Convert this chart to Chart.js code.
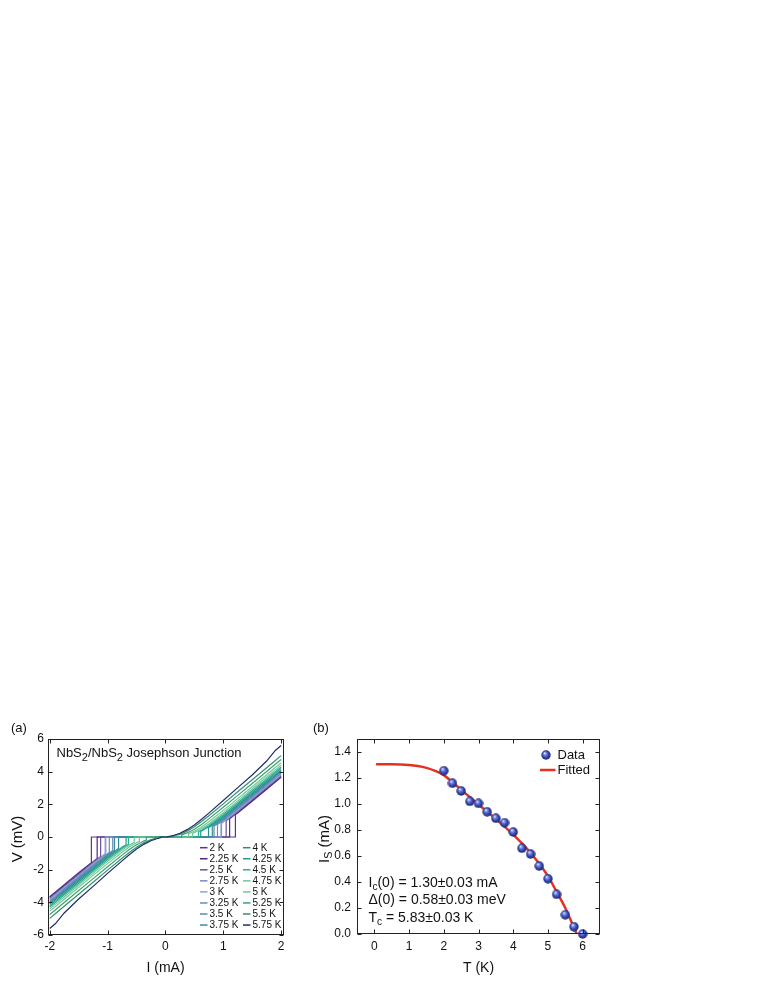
<!DOCTYPE html>
<html><head><meta charset="utf-8">
<script src="https://cdn.jsdelivr.net/npm/chart.js@4.4.0/dist/chart.umd.min.js"></script>
<style>
html,body{margin:0;padding:0;background:#fff;width:765px;height:990px;overflow:hidden;}
#wrapA{position:absolute;left:0;top:715px;width:305px;height:275px;}
#wrapB{position:absolute;left:305px;top:715px;width:310px;height:275px;}
canvas{display:block;}
</style></head><body>
<div id="wrapA"><canvas id="cA" width="305" height="275"></canvas></div>
<div id="wrapB"><canvas id="cB" width="310" height="275"></canvas></div>
<script>
// ---------------- Panel (a) data ----------------
const temperatureLabels = ['2 K','2.25 K','2.5 K','2.75 K','3 K','3.25 K','3.5 K','3.75 K',
                           '4 K','4.25 K','4.5 K','4.75 K','5 K','5.25 K','5.5 K','5.75 K'];
const curveColors = ['#6b2c8e','#4c2a82','#6a50a2','#7e86c2','#8fa5cd','#6b8dbd','#5a88ad','#3d8aa5',
                     '#2a8b8e','#1f9f8a','#2fb08c','#66c99c','#72c694','#3aa271','#358f6c','#1f2d6e'];
// current grid (mA, positive side); branch voltages mirrored for negative currents
const gridCurrents = [0, 0.125, 0.25, 0.375, 0.5, 0.625, 0.75, 1.0, 1.25, 1.5, 1.75, 1.9, 2.0];
const n = null;
const v_2K    = [n,n,n,n,n,n,n,n,1.47,2.19,2.92,3.36,3.65];
const v_2p25K = [n,n,n,n,n,n,n,n,1.51,2.23,2.96,3.40,3.69];
const v_2p5K  = [n,n,n,n,n,n,n,n,1.55,2.28,3.01,3.45,3.74];
const v_2p75K = [n,n,n,n,n,n,n,0.91,1.61,2.34,3.07,3.50,3.80];
const v_3K    = [n,n,n,n,n,n,n,0.97,1.67,2.40,3.12,3.56,3.85];
const v_3p25K = [n,n,n,n,n,n,n,1.02,1.73,2.45,3.18,3.62,3.91];
const v_3p5K  = [n,n,n,n,n,n,n,1.07,1.79,2.51,3.24,3.68,3.97];
const v_3p75K = [n,n,n,n,n,n,n,1.14,1.86,2.58,3.31,3.75,4.04];
const v_4K    = [n,n,n,n,n,n,0.56,1.21,1.93,2.65,3.38,3.82,4.11];
const v_4p25K = [n,n,n,n,n,0.37,0.63,1.29,2.01,2.74,3.47,3.91,4.20];
const v_4p5K  = [n,n,n,n,n,0.42,0.70,1.38,2.10,2.83,3.56,4.00,4.29];
const v_4p75K = [n,n,n,n,0.27,0.50,0.80,1.49,2.21,2.94,3.67,4.11,4.40];
const v_5K    = [n,n,n,n,0.35,0.61,0.93,1.63,2.35,3.08,3.81,4.25,4.54];
const v_5p25K = [n,n,n,0.25,0.48,0.77,1.11,1.82,2.55,3.28,4.01,4.45,4.74];
const v_5p5K  = [n,n,0.16,0.36,0.63,0.95,1.30,2.03,2.77,3.50,4.24,4.68,4.98];
const v_5p75K = [0,0.08,0.23,0.45,0.74,1.09,1.46,2.23,3.02,3.80,4.65,5.30,5.60];
const branchVoltages = [v_2K,v_2p25K,v_2p5K,v_2p75K,v_3K,v_3p25K,v_3p5K,v_3p75K,
                        v_4K,v_4p25K,v_4p5K,v_4p75K,v_5K,v_5p25K,v_5p5K,v_5p75K];
// switching (jump) currents and the voltage reached after the jump
const icNeg    = [-1.28,-1.18,-1.12,-1.04,-1.03,-0.97,-0.91,-0.88,-0.81,-0.68,-0.64,-0.54,-0.45,-0.33,-0.17,-0.08];
const icPos    = [1.21,1.11,1.05,0.97,0.96,0.90,0.84,0.81,0.74,0.61,0.57,0.47,0.40,0.28,0.13,0.04];
const vJumpNeg = [-1.58,-1.31,-1.19,-1.02,-1.05,-0.94,-0.83,-0.82,-0.70,-0.47,-0.45,-0.33,-0.27,-0.19,-0.08,-0.04];
const vJumpPos = [1.38,1.11,0.99,0.83,0.86,0.76,0.66,0.65,0.54,0.34,0.32,0.23,0.20,0.13,0.06,0.02];
const xTicksA = [-2,-1,0,1,2];
const xLabelsA = ['-2','-1','0','1','2'];
const yTicksA = [-6,-4,-2,0,2,4,6];
const yLabelsA = ['-6','-4','-2','0','2','4','6'];

// ---------------- Panel (b) data ----------------
const tempK = [2,2.25,2.5,2.75,3,3.25,3.5,3.75,4,4.25,4.5,4.75,5,5.25,5.5,5.75,6];
const switchCurrent = [1.256,1.16,1.10,1.02,1.005,0.94,0.89,0.856,0.785,0.66,0.615,0.523,0.425,0.305,0.148,0.056,0.0];
const fitT  = [0.05,0.5,1.0,1.25,1.5,1.75,2.0,2.25,2.5,2.75,3.0,3.25,3.5,3.75,4.0,4.25,4.5,4.75,5.0,5.25,5.5,5.7,5.83];
const fitIs = [1.305,1.305,1.300,1.292,1.278,1.255,1.222,1.168,1.110,1.053,0.996,0.941,0.885,0.826,0.765,0.698,0.625,0.540,0.445,0.325,0.200,0.080,0.0];
const xTicksB = [0,1,2,3,4,5,6];
const xLabelsB = ['0','1','2','3','4','5','6'];
const yTicksB = [0,0.2,0.4,0.6,0.8,1.0,1.2,1.4];
const yLabelsB = ['0.0','0.2','0.4','0.6','0.8','1.0','1.2','1.4'];

const FONT = '"Liberation Sans", Arial, Helvetica, sans-serif';
const INK = '#111';

function curvePoints(i){
  const v = branchVoltages[i], pts = [];
  for (let k = gridCurrents.length-1; k >= 0; k--){
    const I = gridCurrents[k];
    if (v[k] !== null && -I < icNeg[i]) pts.push({x:-I, y:-v[k]});
  }
  pts.push({x:icNeg[i], y:vJumpNeg[i]}, {x:icNeg[i], y:0}, {x:icPos[i], y:0}, {x:icPos[i], y:vJumpPos[i]});
  for (let k = 0; k < gridCurrents.length; k++){
    const I = gridCurrents[k];
    if (v[k] !== null && I > icPos[i]) pts.push({x:I, y:v[k]});
  }
  return pts;
}

function drawRich(ctx, parts, x, y, size, align, subScale){
  const ss = subScale || 0.72;
  const measure = () => {
    let w = 0;
    parts.forEach(p => { ctx.font = (p[1] ? size*ss : size) + 'px ' + FONT; w += ctx.measureText(p[0]).width; });
    return w;
  };
  let cx = x;
  if (align === 'center') cx = x - measure()/2;
  ctx.textAlign = 'left';
  parts.forEach(p => {
    ctx.font = (p[1] ? size*ss : size) + 'px ' + FONT;
    ctx.fillText(p[0], cx, p[1] ? y + size*0.28 : y);
    cx += ctx.measureText(p[0]).width;
  });
}

function makeFramePlugin(xt, yt){
  return {
    id: 'frameTicks',
    afterDraw(chart){
      const {ctx, chartArea:a} = chart;
      const xs = chart.scales.x, ys = chart.scales.y;
      const L = Math.round(a.left)+0.5, R = Math.round(a.right)-0.5, T = Math.round(a.top)+0.5, B = Math.round(a.bottom)-0.5;
      ctx.save();
      ctx.strokeStyle = '#222'; ctx.lineWidth = 1;
      ctx.strokeRect(L, T, R-L, B-T);
      ctx.beginPath();
      xt.forEach(v => {
        const px = Math.round(xs.getPixelForValue(v))+0.5;
        ctx.moveTo(px, B); ctx.lineTo(px, B-4);
        ctx.moveTo(px, T); ctx.lineTo(px, T+4);
      });
      yt.forEach(v => {
        const py = Math.round(ys.getPixelForValue(v))+0.5;
        ctx.moveTo(L, py); ctx.lineTo(L+4, py);
        ctx.moveTo(R, py); ctx.lineTo(R-4, py);
      });
      ctx.stroke();
      ctx.restore();
    }
  };
}

function makeSphere(d){
  const c = document.createElement('canvas'); c.width = d; c.height = d;
  const g = c.getContext('2d'); const r = d/2;
  const grad = g.createRadialGradient(r*0.72, r*0.62, r*0.05, r, r, r);
  grad.addColorStop(0, '#f2f4ff');
  grad.addColorStop(0.22, '#8394e6');
  grad.addColorStop(0.6, '#3447b0');
  grad.addColorStop(1, '#1a2366');
  g.fillStyle = grad; g.beginPath(); g.arc(r, r, r-0.3, 0, Math.PI*2); g.fill();
  return c;
}
const sphere = makeSphere(10);

// ---------------- Chart (a) ----------------
const textA = {
  id: 'textA',
  afterDraw(chart){
    const ctx = chart.ctx;
    ctx.save();
    ctx.fillStyle = INK; ctx.textBaseline = 'alphabetic';
    ctx.font = '13px ' + FONT; ctx.textAlign = 'left';
    ctx.fillText('(a)', 11, 17);
    drawRich(ctx, [['NbS'],['2',1],['/NbS'],['2',1],[' Josephson Junction']], 56.5, 42, 13, 'left', 0.85);
    // legend: 2 columns x 8 rows
    for (let i = 0; i < temperatureLabels.length; i++){
      const col = Math.floor(i/8), row = i % 8;
      const yy = 132.7 + row*11.05;
      const x0 = col === 0 ? 200 : 243;
      ctx.strokeStyle = curveColors[i]; ctx.lineWidth = 1.5;
      ctx.beginPath(); ctx.moveTo(x0, yy); ctx.lineTo(x0+7.5, yy); ctx.stroke();
      ctx.fillStyle = INK; ctx.font = '10px ' + FONT; ctx.textBaseline = 'middle'; ctx.textAlign = 'left';
      ctx.fillText(temperatureLabels[i], x0+9.5, yy+0.5);
    }
    // axis titles
    ctx.textBaseline = 'middle'; ctx.textAlign = 'center'; ctx.font = '14px ' + FONT;
    ctx.fillText('I (mA)', 165.5, 253);
    ctx.font = '15px ' + FONT;
    ctx.save(); ctx.translate(18, 124); ctx.rotate(-Math.PI/2);
    ctx.fillText('V (mV)', 0, 0); ctx.restore();
    ctx.restore();
  }
};

new Chart(document.getElementById('cA'), {
  type: 'scatter',
  data: {
    datasets: temperatureLabels.map((lab, i) => ({
      label: lab, data: curvePoints(i), showLine: true,
      borderColor: curveColors[i], backgroundColor: curveColors[i],
      borderWidth: 1.2, pointRadius: 0, tension: 0, order: 15 - i
    }))
  },
  options: {
    responsive: false, animation: false, events: [],
    layout: {padding: {left: 0, right: 21, top: 24, bottom: 0}},
    plugins: {legend: {display: false}, tooltip: {enabled: false}},
    scales: {
      x: {
        type: 'linear', min: -2.03, max: 2.05,
        grid: {display: false, drawTicks: false}, border: {display: false},
        afterBuildTicks: s => { s.ticks = xTicksA.map(v => ({value: v})); },
        afterFit: s => { s.height = 55; },
        ticks: {padding: 4, autoSkip: false, maxRotation: 0, color: INK, font: {family: FONT, size: 12},
                callback: (v, idx) => xLabelsA[idx]}
      },
      y: {
        type: 'linear', min: -6, max: 6,
        grid: {display: false, drawTicks: false}, border: {display: false},
        afterBuildTicks: s => { s.ticks = yTicksA.map(v => ({value: v})); },
        afterFit: s => { s.width = 48; },
        ticks: {padding: 4, autoSkip: false, color: INK, font: {family: FONT, size: 12},
                callback: (v, idx) => yLabelsA[idx]}
      }
    }
  },
  plugins: [makeFramePlugin(xTicksA, yTicksA), textA]
});

// ---------------- Chart (b) ----------------
const textB = {
  id: 'textB',
  afterDraw(chart){
    const ctx = chart.ctx;
    ctx.save();
    ctx.fillStyle = INK; ctx.textBaseline = 'alphabetic'; ctx.textAlign = 'left';
    ctx.font = '13px ' + FONT;
    ctx.fillText('(b)', 8, 17);
    // legend
    ctx.drawImage(sphere, 241 - 5, 40 - 5);
    ctx.textBaseline = 'middle'; ctx.font = '13px ' + FONT;
    ctx.fillText('Data', 252.5, 40.5);
    ctx.strokeStyle = '#e5321e'; ctx.lineWidth = 2.5;
    ctx.beginPath(); ctx.moveTo(235, 55); ctx.lineTo(250.5, 55); ctx.stroke();
    ctx.fillText('Fitted', 252.5, 55.5);
    // fit parameters
    ctx.textBaseline = 'alphabetic';
    drawRich(ctx, [['I'],['c',1],['(0) = 1.30\u00b10.03 mA']], 63.5, 171.5, 14);
    drawRich(ctx, [['\u0394(0) = 0.58\u00b10.03 meV']], 63.5, 189, 14);
    drawRich(ctx, [['T'],['c',1],[' = 5.83\u00b10.03 K']], 63.5, 206.5, 14);
    // axis titles
    ctx.textBaseline = 'middle'; ctx.textAlign = 'center'; ctx.font = '14px ' + FONT;
    ctx.fillText('T (K)', 173.5, 253);
    ctx.save(); ctx.translate(20, 124); ctx.rotate(-Math.PI/2);
    drawRich(ctx, [['I'],['S',1],[' (mA)']], 0, 0, 15, 'center');
    ctx.restore();
    ctx.restore();
  }
};

new Chart(document.getElementById('cB'), {
  type: 'scatter',
  data: {
    datasets: [
      {label: 'Data', data: tempK.map((t, i) => ({x: t, y: switchCurrent[i]})),
       pointStyle: sphere, pointRadius: 5, showLine: false, order: 0, clip: false},
      {label: 'Fitted', data: fitT.map((t, i) => ({x: t, y: fitIs[i]})),
       showLine: true, borderColor: '#e5321e', borderWidth: 2.5, pointRadius: 0,
       cubicInterpolationMode: 'monotone', order: 1}
    ]
  },
  options: {
    responsive: false, animation: false, events: [],
    layout: {padding: {left: 0, right: 15, top: 24, bottom: 0}},
    plugins: {legend: {display: false}, tooltip: {enabled: false}},
    scales: {
      x: {
        type: 'linear', min: -0.5, max: 6.5,
        grid: {display: false, drawTicks: false}, border: {display: false},
        afterBuildTicks: s => { s.ticks = xTicksB.map(v => ({value: v})); },
        afterFit: s => { s.height = 56; },
        ticks: {padding: 5, autoSkip: false, maxRotation: 0, color: INK, font: {family: FONT, size: 12},
                callback: (v, idx) => xLabelsB[idx]}
      },
      y: {
        type: 'linear', min: 0, max: 1.5,
        grid: {display: false, drawTicks: false}, border: {display: false},
        afterBuildTicks: s => { s.ticks = yTicksB.map(v => ({value: v})); },
        afterFit: s => { s.width = 52; },
        ticks: {padding: 6, autoSkip: false, color: INK, font: {family: FONT, size: 12},
                callback: (v, idx) => yLabelsB[idx]}
      }
    }
  },
  plugins: [makeFramePlugin(xTicksB, yTicksB), textB]
});
</script>
</body></html>
